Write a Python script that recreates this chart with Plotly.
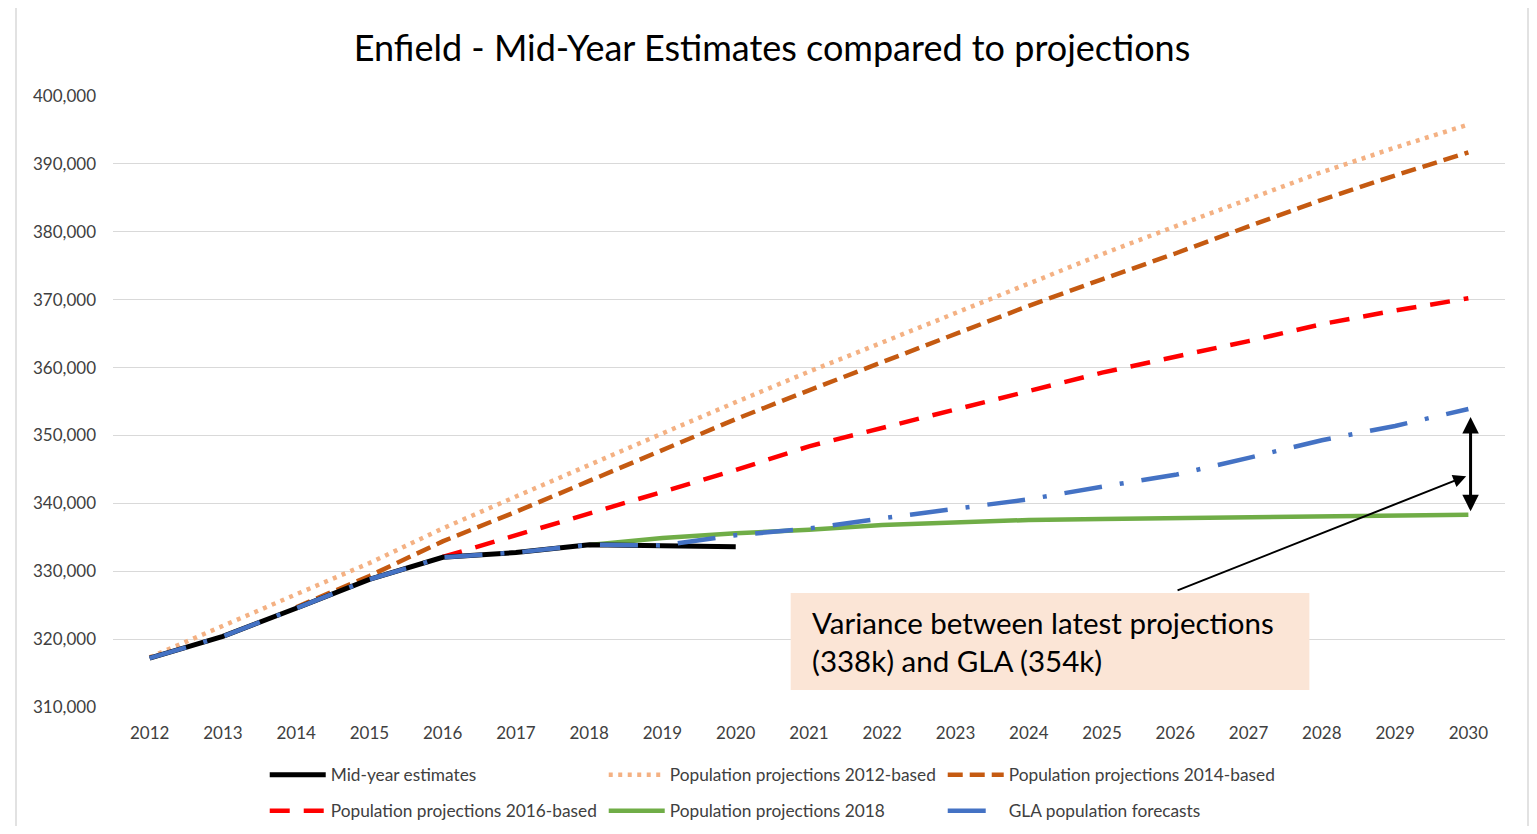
import plotly.graph_objects as go

years_all = list(range(2012, 2031))
years_mye = list(range(2012, 2021))
years_2014 = list(range(2014, 2031))
years_2016 = list(range(2016, 2031))
years_2018 = list(range(2018, 2031))

mid_year_estimates = [317200, 320400, 324550, 328800, 332050, 332750, 333900, 333750, 333600]
proj_2012 = [317300, 322000, 326600, 331200, 336300, 341000, 345700, 350300, 354900, 359400,
             363700, 368000, 372350, 376700, 380800, 384800, 388800, 392400, 395800]
proj_2014 = [324700, 329300, 334400, 338750, 343300, 347850, 352400, 356650, 360800, 364950,
             369100, 373000, 376800, 380800, 384700, 388300, 391700]
proj_2016 = [332100, 335300, 338500, 341650, 344900, 348400, 351150, 353850, 356550, 359250,
             361600, 363900, 366400, 368400, 370200]
proj_2018 = [333850, 334900, 335600, 336100, 336800, 337250, 337550, 337700, 337800, 337950,
             338050, 338200, 338300]
gla = [317200, 320400, 324550, 328800, 332050, 332750, 333900, 333800, 335300, 336300,
       337800, 339150, 340600, 342450, 344200, 346700, 349300, 351400, 353900]

y_ticks = [310000, 320000, 330000, 340000, 350000, 360000, 370000, 380000, 390000, 400000]

FONT = "Lato"
W, H = 1521, 818   # page body has an 8px margin
fig = go.Figure()

fig.add_trace(go.Scatter(x=years_all, y=proj_2012, mode="lines", name="Population projections 2012-based",
                         line=dict(color="#F4B183", width=4.5, dash="4px,5.5px"), legend="legend", legendrank=2))
fig.add_trace(go.Scatter(x=years_2014, y=proj_2014, mode="lines", name="Population projections 2014-based",
                         line=dict(color="#C55A11", width=4.5, dash="15px,7px"), legend="legend", legendrank=3))
fig.add_trace(go.Scatter(x=years_2016, y=proj_2016, mode="lines", name="Population projections 2016-based",
                         line=dict(color="#FF0000", width=4.5, dash="20px,14px"), legend="legend2", legendrank=4))
fig.add_trace(go.Scatter(x=years_2018, y=proj_2018, mode="lines", name="Population projections 2018",
                         line=dict(color="#70AD47", width=4.5), legend="legend2", legendrank=5))
fig.add_trace(go.Scatter(x=years_mye, y=mid_year_estimates, mode="lines", name="Mid-year estimates",
                         line=dict(color="#000000", width=5), legend="legend", legendrank=1))
fig.add_trace(go.Scatter(x=years_all, y=gla, mode="lines", name="GLA population forecasts",
                         line=dict(color="#4472C4", width=4.5, dash="38px,18px,4px,18px"), legend="legend2", legendrank=6))

legend_common = dict(orientation="h", xanchor="left", yanchor="middle", itemwidth=56,
                     entrywidth=268, entrywidthmode="pixels",
                     font=dict(family=FONT, size=17.3, color="#404040"),
                     bgcolor="rgba(0,0,0,0)", itemclick=False, itemdoubleclick=False)

fig.update_layout(
    width=W, height=H,
    margin=dict(l=105, r=24, t=88, b=119, autoexpand=False),
    paper_bgcolor="white", plot_bgcolor="white",
    showlegend=True,
    title=dict(text="Enfield - Mid-Year Estimates compared to projections",
               x=764 / W, xref="container", xanchor="center",
               y=1 - 40 / H, yref="container", yanchor="middle",
               font=dict(family=FONT, size=36, color="#000000")),
    xaxis=dict(range=[2011.5, 2030.5], tickmode="array", tickvals=years_all,
               ticktext=[str(y) for y in years_all], showgrid=False, zeroline=False,
               showline=False, ticks="", ticklabelstandoff=14,
               tickfont=dict(family=FONT, size=17, color="#404040"), fixedrange=True),
    yaxis=dict(range=[310000, 400000], tickmode="array", tickvals=y_ticks,
               tickformat=",", showgrid=True, gridcolor="#D9D9D9", gridwidth=1.3,
               zeroline=False, showline=False, ticks="", ticklabelstandoff=16,
               tickfont=dict(family=FONT, size=17, color="#404040"), fixedrange=True),
    legend=dict(x=0.109, y=(707 - 775) / 611, **legend_common),
    legend2=dict(x=0.109, y=(707 - 811) / 611, **legend_common),
)

# outer chart border
fig.add_shape(type="rect", xref="paper", yref="paper",
              x0=(16 - 113) / 1392, x1=(1528 - 113) / 1392,
              y0=-0.25, y1=(707 - 6) / 611,
              line=dict(color="#D9D9D9", width=1.5), fillcolor="rgba(0,0,0,0)", layer="below")

# callout box
fig.add_shape(type="rect", xref="x", yref="y",
              x0=2020.75, x1=2027.83, y0=312520, y1=326800,
              line=dict(width=0), fillcolor="#FBE5D6", layer="above")
fig.add_annotation(x=2021.02, y=319700, xref="x", yref="y", xanchor="left", yanchor="middle",
                   align="left", showarrow=False,
                   text="Variance between latest projections<br>(338k) and GLA (354k)",
                   font=dict(family=FONT, size=29.5, color="#000000"))

# pointer arrow
fig.add_annotation(x=2029.97, y=344000, ax=2026.01, ay=327100, xref="x", yref="y",
                   axref="x", ayref="y", text="", showarrow=True, arrowhead=2,
                   arrowwidth=2, arrowsize=1.3, arrowcolor="#000000", standoff=0)
# double-headed vertical arrow
fig.add_annotation(x=2030.03, y=352700, ax=2030.03, ay=338600, xref="x", yref="y",
                   axref="x", ayref="y", text="", showarrow=True, arrowhead=2,
                   arrowside="end+start", arrowwidth=3, arrowsize=1.1,
                   arrowcolor="#000000", standoff=0, startstandoff=0)

fig.write_html("out.html")
